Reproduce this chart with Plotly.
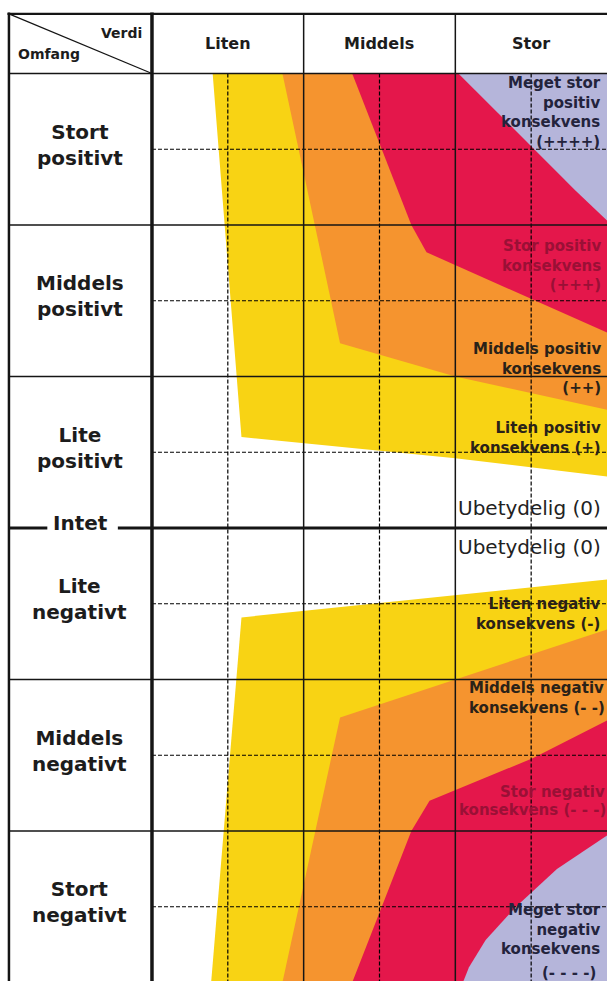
import plotly.graph_objects as go

# ---------------- data (grid units: x 0..3 = Verdi columns, y -3..3 = Omfang rows) -------------
col_labels = ["Liten", "Middels", "Stor"]
row_labels = ["Stort<br>positivt", "Middels<br>positivt", "Lite<br>positivt",
              "Lite<br>negativt", "Middels<br>negativt", "Stort<br>negativt"]
row_centers = [2.5, 1.5, 0.5, -0.5, -1.5, -2.5]
zero_label = "Intet"
corner_top = "Verdi"
corner_bottom = "Omfang"

# boundaries of the consequence zones (positive half)
pos_yellow_x = [0.40, 0.59, 2.00, 3.00]
pos_yellow_y = [3.00, 0.60, 0.46, 0.34]
pos_orange_x = [0.86, 1.24, 2.00, 3.00]
pos_orange_y = [3.00, 1.22, 1.00, 0.78]
pos_red_x = [1.32, 1.71, 1.81, 3.00]
pos_red_y = [3.00, 2.00, 1.82, 1.29]
pos_purple_x = [2.02, 2.29, 2.56, 2.79, 3.00]
pos_purple_y = [3.00, 2.73, 2.46, 2.23, 2.03]

# boundaries of the consequence zones (negative half)
neg_yellow_x = [3.00, 0.59, 0.39]
neg_yellow_y = [-0.34, -0.59, -3.00]
neg_orange_x = [3.00, 2.00, 1.24, 0.86]
neg_orange_y = [-0.67, -1.00, -1.25, -3.00]
neg_red_x = [3.00, 2.51, 1.83, 1.71, 1.32]
neg_red_y = [-1.27, -1.52, -1.80, -2.00, -3.00]
neg_purple_x = [3.00, 2.67, 2.40, 2.20, 2.09, 2.05]
neg_purple_y = [-2.03, -2.25, -2.50, -2.72, -2.90, -3.00]

zone_colors = {"yellow": "#F8D314", "orange": "#F5942F", "red": "#E4174B", "purple": "#B5B5DA"}

# consequence labels anchored at the right edge (text, y centre, colour)
zone_texts = [
    ("Meget stor<br>positiv<br>konsekvens<br>(++++)", 2.74, "#23233c"),
    ("Stor positiv<br>konsekvens<br>(+++)", 1.73, "#9a1036"),
    ("Middels positiv<br>konsekvens<br>(++)", 1.05, "#2a2218"),
    ("Liten positiv<br>konsekvens (+)", 0.595, "#2a2218"),
    ("Liten negativ<br>konsekvens (-)", -0.57, "#2a2218"),
    ("Meget stor<br>negativ<br>konsekvens", -2.65, "#23233c"),
]
# consequence labels anchored at their left end (text, x start, y centre, colour)
zone_texts_left = [
    ("Middels negativ<br>konsekvens (- -)", 2.08, -1.12, "#2a2218"),
    ("Stor negativ", 2.28, -1.74, "#9a1036"),
    ("konsekvens (- - -)", 2.01, -1.86, "#9a1036"),
    ("(- - - -)", 2.56, -2.94, "#23233c"),
]
neutral_text = "Ubetydelig (0)"
neutral_y = [0.13, -0.125]

X_MIN, X_MAX = -1.002, 3.0
Y_MIN, Y_MAX = -2.99, 3.485
LABEL_LEFT = -0.943     # left border of the label column
TOP = 3.393             # top border of the header row
FONT = "DejaVu Sans, Liberation Sans, Arial"

fig = go.Figure()

def zone(xs, ys, color, close):
    px = list(xs) + [c[0] for c in close]
    py = list(ys) + [c[1] for c in close]
    fig.add_trace(go.Scatter(x=px, y=py, fill="toself", fillcolor=color, mode="lines",
                             line=dict(width=0, color=color), hoverinfo="skip"))

ny = len(col_labels)
zone(pos_yellow_x, pos_yellow_y, zone_colors["yellow"], [(3.1, pos_yellow_y[-1]), (3.1, 3.0)])
zone(pos_orange_x, pos_orange_y, zone_colors["orange"], [(3.1, pos_orange_y[-1]), (3.1, 3.0)])
zone(pos_red_x, pos_red_y, zone_colors["red"], [(3.1, pos_red_y[-1]), (3.1, 3.0)])
zone(pos_purple_x, pos_purple_y, zone_colors["purple"], [(3.1, pos_purple_y[-1]), (3.1, 3.0)])
zone(neg_yellow_x, neg_yellow_y, zone_colors["yellow"], [(neg_yellow_x[-1], -3.1), (3.1, -3.1), (3.1, neg_yellow_y[0])])
zone(neg_orange_x, neg_orange_y, zone_colors["orange"], [(neg_orange_x[-1], -3.1), (3.1, -3.1), (3.1, neg_orange_y[0])])
zone(neg_red_x, neg_red_y, zone_colors["red"], [(neg_red_x[-1], -3.1), (3.1, -3.1), (3.1, neg_red_y[0])])
zone(neg_purple_x, neg_purple_y, zone_colors["purple"], [(neg_purple_x[-1], -3.1), (3.1, -3.1), (3.1, neg_purple_y[0])])

shapes = []
def line(x0, y0, x1, y1, w=1.5, dash="solid", color="#151515"):
    shapes.append(dict(type="line", xref="x", yref="y", x0=x0, y0=y0, x1=x1, y1=y1,
                       line=dict(color=color, width=w, dash=dash), layer="above"))

# dashed mid lines
for c in range(ny):
    line(c + 0.5, 3.0, c + 0.5, -3.1, w=1.2, dash="4px,2px", color="#000")
for yc in row_centers:
    line(0, yc, 3.1, yc, w=1.2, dash="4px,2px", color="#000")
# solid row lines
for yv in [3.0, 2.0, 1.0, -1.0, -2.0, -3.0]:
    line(LABEL_LEFT, yv, 3.1, yv, w=1.6)
# column lines
for c in range(1, ny):
    line(c, TOP, c, -3.1, w=1.5)
# frame
line(LABEL_LEFT - 0.01, TOP, 3.1, TOP, w=2.2)
line(LABEL_LEFT, TOP + 0.01, LABEL_LEFT, -3.1, w=2.5)
line(0, TOP + 0.01, 0, -3.1, w=3.5)
# Intet line
line(LABEL_LEFT, 0, -0.69, 0, w=3)
line(-0.225, 0, 3.1, 0, w=3)
# header diagonal
line(LABEL_LEFT, TOP, 0, 3.0, w=1.3)

ann = []
def text(x, y, s, size, xanchor="center", align="center", bold=True, color="#1c1c1c", family=FONT):
    ann.append(dict(x=x, y=y, xref="x", yref="y", text=f"<b>{s}</b>" if bold else s,
                    showarrow=False, xanchor=xanchor, yanchor="middle", align=align,
                    font=dict(size=size, color=color, family=family)))

text(-0.055, 3.27, corner_top, 14, xanchor="right")
text(-0.895, 3.13, corner_bottom, 14, xanchor="left")
for i, lab in enumerate(col_labels):
    text(i + 0.5, 3.195, lab, 16)
for lab, yc in zip(row_labels, row_centers):
    text(-0.475, yc + 0.03, lab, 20)
text(-0.47, 0.03, zero_label, 20)

for s, yc, colr in zone_texts:
    text(2.975, yc, s, 15, xanchor="right", align="right", color=colr)
for s, xs, yc, colr in zone_texts_left:
    text(xs, yc, s, 15, xanchor="left", align="left", color=colr)
for yv in neutral_y:
    text(2.975, yv, neutral_text, 20, xanchor="right", align="right", bold=False, color="#222")

fig.update_layout(
    width=607, height=981, autosize=False,
    margin=dict(l=0, r=0, t=0, b=0, pad=0),
    paper_bgcolor="white", plot_bgcolor="white",
    showlegend=False,
    xaxis=dict(range=[X_MIN, X_MAX], visible=False, fixedrange=True),
    yaxis=dict(range=[Y_MIN, Y_MAX], visible=False, fixedrange=True),
    shapes=shapes, annotations=ann,
)
fig.write_html("out.html", config={"displayModeBar": False},
               post_script="document.body.style.margin='0px';")
